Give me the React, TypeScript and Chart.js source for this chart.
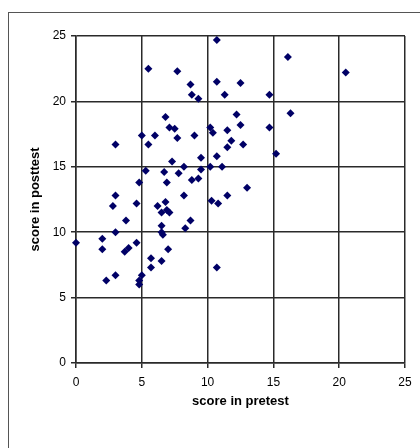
import React, { useEffect, useRef } from "react";
import { Chart, registerables } from "chart.js";

Chart.register(...registerables);

const pretest: number[] = [
  10.7, 5.5, 7.7, 8.7, 10.7, 12.5, 8.8, 9.3, 11.3, 6.8,
  12.2, 12.5, 7.1, 7.5, 10.2, 11.5, 10.4, 5.0, 6.0, 7.7,
  9.0, 3.0, 5.5, 11.8, 11.5, 9.5, 10.7, 7.3, 8.2, 10.2,
  11.1, 5.3, 6.7, 9.5, 7.8, 4.8, 6.9, 8.8, 9.3, 3.0,
  8.2, 11.5, 10.3, 10.8, 16.1, 20.5, 14.7, 16.3, 12.7, 15.2,
  14.7, 13.0, 2.8, 4.6, 6.2, 6.8, 6.5, 6.9, 7.1, 3.8,
  8.7, 8.3, 6.5, 3.0, 6.5, 6.6, 0.0, 2.0, 2.0, 4.6,
  4.0, 3.7, 7.0, 5.7, 6.5, 5.7, 10.7, 3.0, 2.3, 5.0,
  4.8, 4.8,
];

const posttest: number[] = [
  24.7, 22.5, 22.3, 21.3, 21.5, 21.4, 20.5, 20.2, 20.5, 18.8,
  19.0, 18.2, 18.0, 17.9, 18.0, 17.8, 17.6, 17.4, 17.4, 17.2,
  17.4, 16.7, 16.7, 17.0, 16.5, 15.7, 15.8, 15.4, 15.0, 15.0,
  15.0, 14.7, 14.6, 14.8, 14.5, 13.8, 13.8, 14.0, 14.1, 12.8,
  12.8, 12.8, 12.4, 12.2, 23.4, 22.2, 20.5, 19.1, 16.7, 16.0,
  18.0, 13.4, 12.0, 12.2, 12.0, 12.3, 11.5, 11.7, 11.5, 10.9,
  10.9, 10.3, 10.5, 10.0, 10.0, 9.8, 9.2, 9.5, 8.7, 9.2,
  8.8, 8.5, 8.7, 8.0, 7.8, 7.3, 7.3, 6.7, 6.3, 6.7,
  6.3, 6.0,
];

const xTitle = "score in pretest";
const yTitle = "score in posttest";
const axisMin = 0;
const axisMax = 25;
const axisStep = 5;

export default function App() {
  const ref = useRef<HTMLCanvasElement | null>(null);

  useEffect(() => {
    if (!ref.current) return;
    const points = pretest.map((x, i) => ({ x, y: posttest[i] }));
    const gridColor = "#2a2a2a";
    const tickFont = { family: "'Liberation Sans', Arial, sans-serif", size: 12 };
    const titleFont = { family: "'Liberation Sans', Arial, sans-serif", size: 13, weight: "bold" as const };
    const chart = new Chart(ref.current, {
      type: "scatter",
      data: {
        datasets: [
          {
            data: points,
            pointStyle: "rectRot",
            pointRadius: 4,
            pointHoverRadius: 4,
            backgroundColor: "#000066",
            borderColor: "#000066",
            borderWidth: 0,
            clip: false,
          },
        ],
      },
      options: {
        animation: false,
        responsive: false,
        maintainAspectRatio: false,
        layout: { padding: { top: 23, right: 15, left: 0, bottom: 0 } },
        plugins: { legend: { display: false }, tooltip: { enabled: false } },
        scales: {
          x: {
            type: "linear",
            min: axisMin,
            max: axisMax,
            ticks: { stepSize: axisStep, color: "#000", font: tickFont, padding: 7, maxRotation: 0 },
            grid: { color: gridColor, lineWidth: 1.5, tickLength: 5, drawTicks: true },
            border: { color: gridColor, width: 1.5 },
            title: { display: true, text: xTitle, color: "#000", font: titleFont, padding: { top: 0, bottom: 39 } },
            afterFit: (scale: any) => {
              scale.height = 85;
            },
          },
          y: {
            type: "linear",
            min: axisMin,
            max: axisMax,
            ticks: { stepSize: axisStep, color: "#000", font: tickFont, padding: 5 },
            grid: { color: gridColor, lineWidth: 1.5, tickLength: 5, drawTicks: true },
            border: { color: gridColor, width: 1.5 },
            title: { display: true, text: yTitle, color: "#000", font: titleFont, padding: { top: 19, bottom: 0 } },
            afterFit: (scale: any) => {
              scale.width = 67;
            },
          },
        },
      },
    });
    return () => chart.destroy();
  }, []);

  return (
    <div
      style={{
        position: "absolute",
        left: 8,
        top: 12,
        width: 420,
        height: 448,
        borderTop: "1px solid #555",
        borderLeft: "1px solid #555",
        background: "#fff",
      }}
    >
      <canvas ref={ref} width={411} height={435} style={{ display: "block", width: 411, height: 435 }} />
    </div>
  );
}
